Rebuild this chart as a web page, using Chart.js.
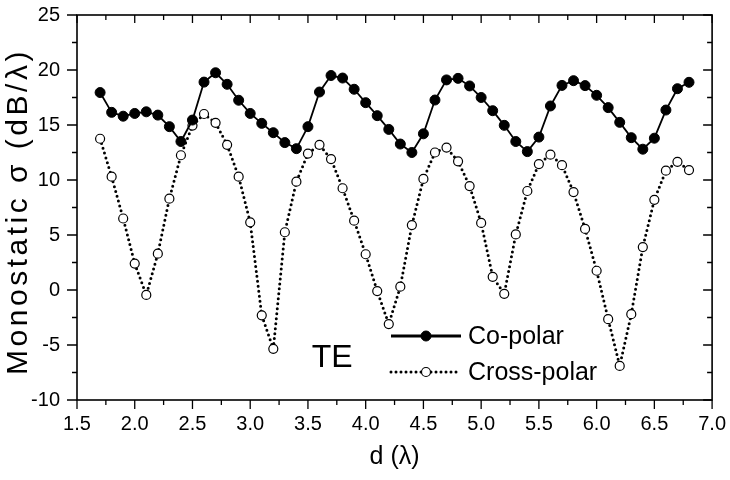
<!DOCTYPE html>
<html>
<head>
<meta charset="utf-8">
<script src="https://cdn.jsdelivr.net/npm/chart.js@4.4.1/dist/chart.umd.min.js"></script>
<style>
  html, body { margin: 0; padding: 0; background: #fff; }
  #rcs { display: block; }
</style>
</head>
<body>
<canvas id="rcs" width="730" height="480"></canvas>
<script>
'use strict';

// d in wavelengths
const distances = [1.7, 1.8, 1.9, 2.0, 2.1, 2.2, 2.3, 2.4, 2.5, 2.6, 2.7, 2.8, 2.9, 3.0, 3.1, 3.2, 3.3, 3.4,
    3.5, 3.6, 3.7, 3.8, 3.9, 4.0, 4.1, 4.2, 4.3, 4.4, 4.5, 4.6, 4.7, 4.8, 4.9, 5.0, 5.1, 5.2, 5.3, 5.4,
    5.5, 5.6, 5.7, 5.8, 5.9, 6.0, 6.1, 6.2, 6.3, 6.4, 6.5, 6.6, 6.7, 6.8];

const coPolar = [17.95, 16.15, 15.8, 16.05, 16.2, 15.9, 14.85, 13.5, 15.45, 18.9, 19.75, 18.7, 17.25,
    16.05, 15.15, 14.3, 13.4, 12.85, 14.85, 18.0, 19.5, 19.27, 18.25, 17.03, 15.85, 14.6, 13.27, 12.5,
    14.2, 17.27, 19.1, 19.24, 18.55, 17.5, 16.3, 14.97, 13.5, 12.58, 13.9, 16.73, 18.6, 19.03, 18.58,
    17.7, 16.58, 15.24, 13.85, 12.8, 13.8, 16.36, 18.3, 18.88];

const crossPolar = [13.75, 10.3, 6.5, 2.4, -0.45, 3.3, 8.3, 12.25, 14.95, 16.0, 15.2, 13.2, 10.3,
    6.15, -2.3, -5.35, 5.25, 9.85, 12.4, 13.2, 11.9, 9.25, 6.3, 3.25, -0.1, -3.1, 0.3, 5.9, 10.1,
    12.5, 12.95, 11.7, 9.45, 6.1, 1.2, -0.35, 5.05, 9.0, 11.45, 12.3, 11.35, 8.9, 5.55, 1.75, -2.65,
    -6.9, -2.2, 3.9, 8.2, 10.85, 11.65, 10.9];

const xTicks = [1.5, 2.0, 2.5, 3.0, 3.5, 4.0, 4.5, 5.0, 5.5, 6.0, 6.5, 7.0];
const yTicks = [-10, -5, 0, 5, 10, 15, 20, 25];

const seriesLabels = ['Co-polar', 'Cross-polar'];
const yTitle = 'Monostatic σ (dB/λ)';
const xTitle = 'd (λ)';
const modeLabel = 'TE';
const modeLabelAt = [3.71, -6.2];

const FONT = '"Liberation Sans", Arial, Helvetica, sans-serif';

const toPoints = function (ys) {
    return distances.map((d, i) => ({ x: d, y: ys[i] }));
};

// minor ticks sit half way between the labelled ones
const withMinor = function (ticks) {
    let out = [];
    for (let i = 0; i < ticks.length; i++) {
        out.push({ v: ticks[i], major: true });
        if (i < ticks.length - 1) out.push({ v: (ticks[i] + ticks[i + 1]) / 2, major: false });
    }
    return out;
};

const framePlugin = {
    id: 'frame',
    afterDraw(chart) {
        const ctx = chart.ctx;
        const a = chart.chartArea;
        const x = chart.scales.x, y = chart.scales.y;
        ctx.save();
        ctx.strokeStyle = '#000';
        ctx.lineWidth = 1.6;
        ctx.strokeRect(a.left, a.top, a.right - a.left, a.bottom - a.top);

        ctx.lineWidth = 1.3;
        ctx.beginPath();
        for (let t of withMinor(xTicks)) {
            const px = x.getPixelForValue(t.v);
            const out = t.major ? 9 : 5, inn = t.major ? 8 : 5;
            ctx.moveTo(px, a.bottom); ctx.lineTo(px, a.bottom + out);
            ctx.moveTo(px, a.top); ctx.lineTo(px, a.top + inn);
        }
        for (let t of withMinor(yTicks)) {
            const py = y.getPixelForValue(t.v);
            const out = t.major ? 10 : 5, inn = t.major ? 9 : 5;
            ctx.moveTo(a.left, py); ctx.lineTo(a.left - out, py);
            ctx.moveTo(a.right, py); ctx.lineTo(a.right - inn, py);
        }
        ctx.stroke();

        ctx.fillStyle = '#000';

        // y title, drawn by hand so the spacing can follow the original
        ctx.save();
        ctx.translate(19, (a.top + a.bottom) / 2 + 4);
        ctx.rotate(-Math.PI / 2);
        ctx.font = `30px ${FONT}`;
        ctx.letterSpacing = '3.5px';
        ctx.textAlign = 'center';
        ctx.textBaseline = 'middle';
        ctx.fillText(yTitle, 0, 0);
        ctx.restore();

        // TE mark
        ctx.font = `32px ${FONT}`;
        ctx.textAlign = 'center';
        ctx.textBaseline = 'middle';
        ctx.fillText(modeLabel, x.getPixelForValue(modeLabelAt[0]), y.getPixelForValue(modeLabelAt[1]));

        // legend inside the plot
        const lx0 = 391, lx1 = 461, ly = [336, 372];
        chart.data.datasets.forEach((ds, i) => {
            ctx.save();
            ctx.strokeStyle = ds.borderColor;
            ctx.lineWidth = ds.borderDash ? ds.borderWidth : 2.8;
            ctx.lineCap = ds.borderCapStyle || 'butt';
            ctx.setLineDash(ds.borderDash || []);
            ctx.beginPath();
            ctx.moveTo(lx0, ly[i]);
            ctx.lineTo(lx1, ly[i]);
            ctx.stroke();
            ctx.setLineDash([]);
            ctx.beginPath();
            ctx.arc((lx0 + lx1) / 2, ly[i], ds.pointRadius, 0, Math.PI * 2);
            ctx.fillStyle = ds.pointBackgroundColor;
            ctx.fill();
            ctx.lineWidth = ds.pointBorderWidth;
            ctx.strokeStyle = ds.pointBorderColor;
            ctx.stroke();
            ctx.fillStyle = '#000';
            ctx.font = `25px ${FONT}`;
            ctx.textAlign = 'left';
            ctx.textBaseline = 'middle';
            ctx.fillText(ds.label, lx1 + 7, ly[i] + 1);
            ctx.restore();
        });
        ctx.restore();
    }
};

const loadGraph = function () {
    const ctx = document.getElementById('rcs').getContext('2d');
    new Chart(ctx, {
        type: 'line',
        data: {
            datasets: [{
                label: seriesLabels[0],
                data: toPoints(coPolar),
                borderColor: '#000',
                borderWidth: 1.8,
                pointRadius: 5,
                pointBackgroundColor: '#000',
                pointBorderColor: '#000',
                pointBorderWidth: 1,
                tension: 0
            }, {
                label: seriesLabels[1],
                data: toPoints(crossPolar),
                borderColor: '#000',
                borderWidth: 3,
                borderDash: [0, 5],
                borderCapStyle: 'round',
                pointRadius: 4.5,
                pointBackgroundColor: '#fff',
                pointBorderColor: '#000',
                pointBorderWidth: 1.2,
                tension: 0
            }]
        },
        options: {
            responsive: false,
            animation: false,
            devicePixelRatio: 1,
            layout: { padding: { left: 0, right: 11, top: 15, bottom: 0 } },
            plugins: { legend: { display: false }, tooltip: { enabled: false } },
            scales: {
                x: {
                    type: 'linear',
                    min: 1.5,
                    max: 7.0,
                    afterBuildTicks: (s) => { s.ticks = xTicks.map(v => ({ value: v })); },
                    afterFit: (s) => { s.height = 80; s.paddingLeft = 0; },
                    grid: { display: false },
                    border: { display: false },
                    ticks: {
                        color: '#000',
                        padding: 4,
                        maxRotation: 0,
                        font: { family: FONT, size: 20 },
                        callback: (v) => Number(v).toFixed(1)
                    },
                    title: {
                        display: true,
                        text: xTitle,
                        color: '#000',
                        font: { family: FONT, size: 25 },
                        padding: { top: 0, bottom: 8 }
                    }
                },
                y: {
                    min: -10,
                    max: 25,
                    afterBuildTicks: (s) => { s.ticks = yTicks.map(v => ({ value: v })); },
                    afterFit: (s) => { s.width = 77; s.paddingTop = 0; s.paddingBottom = 0; },
                    grid: { display: false },
                    border: { display: false },
                    ticks: {
                        color: '#000',
                        padding: 9,
                        font: { family: FONT, size: 20 }
                    },
                    title: { display: false }
                }
            }
        },
        plugins: [framePlugin]
    });
};

document.addEventListener('DOMContentLoaded', function () {
    loadGraph();
});
</script>
</body>
</html>
